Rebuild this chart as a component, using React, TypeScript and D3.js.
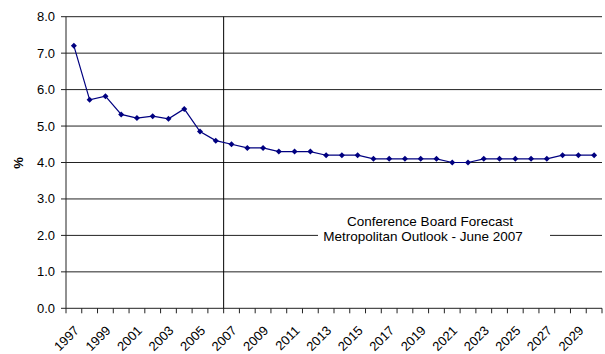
import React from "react";
import * as d3 from "d3";

const years: number[] = d3.range(1997, 2031);
const rates: number[] = [
  7.2, 5.72, 5.82, 5.32, 5.22, 5.27, 5.2, 5.47, 4.85, 4.6,
  4.5, 4.4, 4.4, 4.3, 4.3, 4.3, 4.2, 4.2, 4.2, 4.1,
  4.1, 4.1, 4.1, 4.1, 4.0, 4.0, 4.1, 4.1, 4.1, 4.1,
  4.1, 4.2, 4.2, 4.2,
];
const yTicks: number[] = [0, 1, 2, 3, 4, 5, 6, 7, 8];
const labelYears: number[] = years.filter((y) => (y - 1997) % 2 === 0);
const forecastStart = 2007;
const noteLines: string[] = ["Conference Board Forecast", "Metropolitan Outlook - June 2007"];

const W = 605;
const H = 354;
const left = 66;
const right = 602;
const top = 16.7;
const bottom = 308.3;
const font = "'Liberation Sans', Arial, sans-serif";

export default function App() {
  const x = d3.scaleBand<number>().domain(years).range([left, right]).padding(0);
  const y = d3.scaleLinear().domain([0, 8]).range([bottom, top]);
  const bw = x.bandwidth();
  const cx = (yr: number) => (x(yr) as number) + bw / 2;

  const line = d3
    .line<number>()
    .x((_, i) => cx(years[i]))
    .y((d) => y(d));

  const boundaries = years.map((yr) => x(yr) as number).concat([right]);

  return (
    <svg width={W} height={H} style={{ position: "absolute", left: 0, top: 0, background: "#fff" }}>
      {/* horizontal gridlines */}
      {yTicks.map((t) => (
        <line key={"g" + t} x1={left} x2={right} y1={y(t)} y2={y(t)} stroke="#222" strokeWidth={1} />
      ))}
      {/* y axis */}
      <line x1={left} x2={left} y1={top} y2={bottom} stroke="#222" />
      {yTicks.map((t) => (
        <g key={"yt" + t}>
          <line x1={left - 5} x2={left} y1={y(t)} y2={y(t)} stroke="#222" />
          <text
            x={55}
            y={y(t) + 4.5}
            textAnchor="end"
            fontFamily={font}
            fontSize={13}
            fill="#000"
          >
            {t.toFixed(1)}
          </text>
        </g>
      ))}
      <text
        transform={`translate(23,163) rotate(-90)`}
        textAnchor="middle"
        fontFamily={font}
        fontSize={13}
        fontWeight="bold"
        fill="#000"
      >
        %
      </text>
      {/* x axis ticks */}
      {boundaries.map((b, i) => (
        <line key={"xt" + i} x1={b} x2={b} y1={bottom} y2={bottom + 5} stroke="#222" />
      ))}
      {labelYears.map((yr) => (
        <text
          key={"xl" + yr}
          transform={`translate(${cx(yr) + 6},${bottom + 23}) rotate(-45)`}
          textAnchor="end"
          fontFamily={font}
          fontSize={13}
          fill="#000"
        >
          {yr}
        </text>
      ))}
      {/* forecast divider */}
      <line
        x1={x(forecastStart) as number}
        x2={x(forecastStart) as number}
        y1={top}
        y2={bottom}
        stroke="#000"
      />
      {/* note */}
      <rect x={318} y={208} width={232} height={42} fill="#fff" />
      <text x={430} y={226} textAnchor="middle" fontFamily={font} fontSize={13.5} fill="#000">
        {noteLines[0]}
      </text>
      <text x={423} y={241} textAnchor="middle" fontFamily={font} fontSize={13.5} fill="#000">
        {noteLines[1]}
      </text>
      {/* series */}
      <path d={line(rates) || ""} fill="none" stroke="#000080" strokeWidth={1.2} />
      {rates.map((v, i) => {
        const px = cx(years[i]);
        const py = y(v);
        const s = 3;
        return (
          <path
            key={"m" + i}
            d={`M${px},${py - s}L${px + s},${py}L${px},${py + s}L${px - s},${py}Z`}
            fill="#000080"
          />
        );
      })}
    </svg>
  );
}
